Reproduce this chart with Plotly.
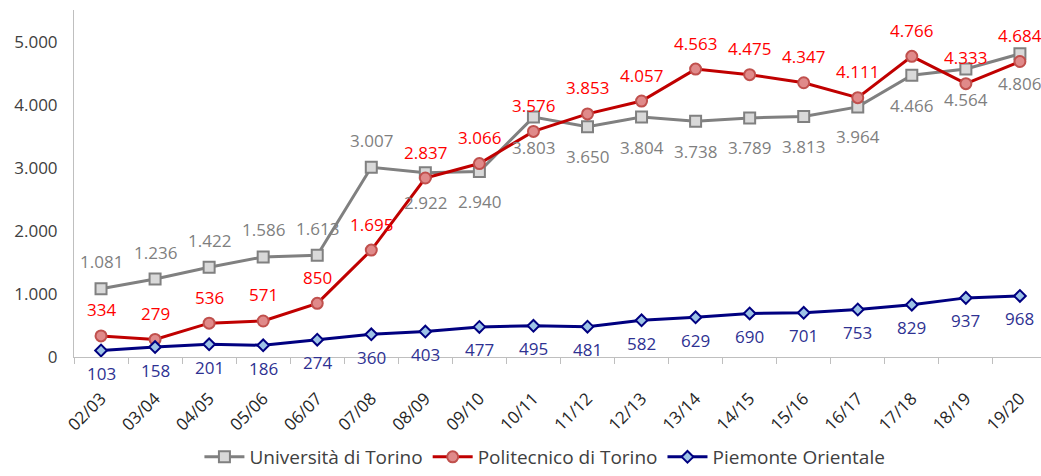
import plotly.graph_objects as go

categories = ["02/03","03/04","04/05","05/06","06/07","07/08","08/09","09/10","10/11",
              "11/12","12/13","13/14","14/15","15/16","16/17","17/18","18/19","19/20"]
unito = [1081,1236,1422,1586,1613,3007,2922,2940,3803,3650,3804,3738,3789,3813,3964,4466,4564,4806]
polito = [334,279,536,571,850,1695,2837,3066,3576,3853,4057,4563,4475,4347,4111,4766,4333,4684]
upo = [103,158,201,186,274,360,403,477,495,481,582,629,690,701,753,829,937,968]
# label placement for Università di Torino: 1 above, -1 below
unito_pos = [1,1,1,1,1,1,-1,-1,-1,-1,-1,-1,-1,-1,-1,-1,-1,-1]

FONT = "Open Sans"

def fmt(v):
    return f"{v:,}".replace(",", ".")

fig = go.Figure()
fig.add_trace(go.Scatter(
    x=categories, y=unito, name="Università di Torino", mode="lines+markers",
    line=dict(color="#808080", width=3),
    marker=dict(symbol="square", size=11, color="#d9d9d9", line=dict(color="#808080", width=2)),
))
fig.add_trace(go.Scatter(
    x=categories, y=polito, name="Politecnico di Torino", mode="lines+markers",
    line=dict(color="#c00000", width=3),
    marker=dict(symbol="circle", size=11, color="#e08a8a", line=dict(color="#c0504d", width=2)),
))
fig.add_trace(go.Scatter(
    x=categories, y=upo, name="Piemonte Orientale", mode="lines+markers",
    line=dict(color="#000080", width=3),
    marker=dict(symbol="diamond", size=9, color="#9dc3e6", line=dict(color="#000080", width=2)),
))

annotations = []
for c, v, p in zip(categories, unito, unito_pos):
    annotations.append(dict(x=c, y=v, text=fmt(v), showarrow=False, yshift=27 * p - (3 if p < 0 else 0),
                            font=dict(color="#7f7f7f", size=17, family=FONT)))
for c, v in zip(categories, polito):
    annotations.append(dict(x=c, y=v, text=fmt(v), showarrow=False, yshift=26,
                            font=dict(color="#ff0000", size=17, family=FONT)))
for c, v in zip(categories, upo):
    annotations.append(dict(x=c, y=v, text=fmt(v), showarrow=False, yshift=-23,
                            font=dict(color="#2e3192", size=17, family=FONT)))

fig.update_layout(
    width=1041, height=476,
    margin=dict(l=74, r=0, t=10, b=119),
    paper_bgcolor="white", plot_bgcolor="white",
    separators=",.",
    font=dict(family=FONT, size=15, color="#404040"),
    annotations=annotations,
    showlegend=True,
    legend=dict(orientation="h", x=0.487, xanchor="center", yref="container", y=0.0,
                yanchor="bottom", font=dict(size=19, color="#404040", family=FONT),
                itemwidth=40, traceorder="normal"),
)
fig.update_xaxes(
    type="category", range=[-0.5, 17.39], tickangle=-45,
    showline=True, linecolor="#bfbfbf", linewidth=1,
    ticks="outside", tickson="boundaries", ticklen=6, tickcolor="#bfbfbf",
    ticklabelstandoff=24,
    showgrid=False, tickfont=dict(size=17, color="#262626"),
)
fig.update_yaxes(
    range=[0, 5500], tickvals=[0, 1000, 2000, 3000, 4000, 5000], tickformat=",d",
    showline=True, linecolor="#bfbfbf", linewidth=1, showgrid=False, zeroline=False,
    ticks="", ticklabelstandoff=12, tickfont=dict(size=17, color="#404040"),
)

fig.write_html("out.html")
